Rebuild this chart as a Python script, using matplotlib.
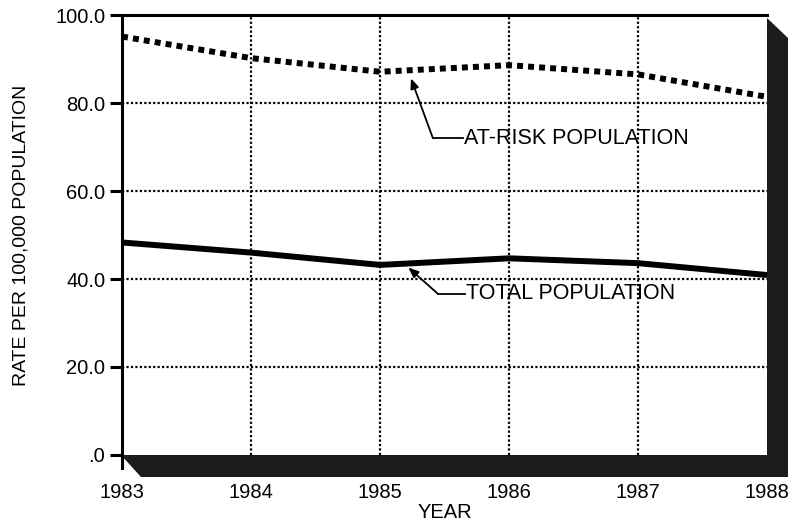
# -*- coding: UTF-8 -*-

"""Rate per 100,000 population, at-risk vs total, 1983-1988
"""

import numpy as np
import matplotlib
matplotlib.use('Agg')
import matplotlib.pyplot as plt
from matplotlib.patches import Polygon

plt.rcParams['font.family'] = ['Liberation Sans', 'DejaVu Sans']

#+++++++++++++++++++++++++++++++++++++++++++++++++++++++++++++++++++++++++++++#

YEARS = [1983, 1984, 1985, 1986, 1987, 1988]
AT_RISK = [95.1, 90.2, 87.1, 88.6, 86.5, 81.4]
TOTAL = [48.3, 46.0, 43.2, 44.7, 43.6, 40.9]

Y_TICKS = [0, 20, 40, 60, 80, 100]
Y_LABELS = ['.0', '20.0', '40.0', '60.0', '80.0', '100.0']

#+++++++++++++++++++++++++++++++++++++++++++++++++++++++++++++++++++++++++++++#

W, H = 788, 524
AX_L, AX_R, AX_T, AX_B = 122, 767, 15, 455


def px2ax(px, py):
  return ((px - AX_L) / (AX_R - AX_L), (AX_B - py) / (AX_B - AX_T))


if __name__ == '__main__':

  fig = plt.figure(figsize=(W / 100, H / 100), dpi=100)
  ax = fig.add_axes([AX_L / W, 1 - AX_B / H,
                     (AX_R - AX_L) / W, (AX_B - AX_T) / H])

  ax.set_xlim(YEARS[0], YEARS[-1])
  ax.set_ylim(0, 100)

  # grid
  for yv in Y_TICKS[1:-1]:
    ax.axhline(yv, color='black', lw=1.6, ls=(0, (1, 1)), zorder=1)
  for xv in YEARS[1:-1]:
    ax.axvline(xv, color='black', lw=1.6, ls=(0, (1, 1)), zorder=1)

  # drop shadow
  shadow_px = [(767, 18), (788, 38), (788, 477), (141, 477), (121, 455),
               (767, 455)]
  shadow = Polygon([px2ax(*p) for p in shadow_px], closed=True,
                   transform=ax.transAxes, clip_on=False,
                   facecolor='#1c1c1c', edgecolor='none', zorder=0)
  ax.add_patch(shadow)

  # left axis runs a little below the floor, like the original
  ax.plot([0, 0], [px2ax(0, 468)[1], 0], transform=ax.transAxes,
          color='black', lw=2.2, clip_on=False, zorder=2)

  # series
  ax.plot(YEARS, AT_RISK, color='black', lw=4.3, ls=(0, (1.0, 0.85)),
          dash_capstyle='butt', zorder=3, clip_on=False)
  ax.plot(YEARS, TOTAL, color='black', lw=4.3, solid_capstyle='butt',
          zorder=3, clip_on=False)

  # labels with leaders
  arrow = dict(arrowstyle='-|>,head_length=0.6,head_width=0.25',
               color='black', lw=1.3, shrinkA=0, shrinkB=0)
  ax.plot([1985.41, 1985.64], [72.0, 72.0], color='black', lw=1.3,
          zorder=4)
  ax.annotate('', xy=(1985.24, 85.6), xytext=(1985.41, 72.0),
              arrowprops=arrow, zorder=4)
  ax.text(1985.65, 72.0, 'AT-RISK POPULATION', fontsize=15.5,
          va='center', ha='left', zorder=4)

  ax.plot([1985.45, 1985.66], [36.6, 36.6], color='black', lw=1.3,
          zorder=4)
  ax.annotate('', xy=(1985.22, 42.6), xytext=(1985.45, 36.6),
              arrowprops=arrow, zorder=4)
  ax.text(1985.67, 36.6, 'TOTAL POPULATION', fontsize=15.5,
          va='center', ha='left', zorder=4)

  # axes styling
  for side in ['right', 'bottom']:
    ax.spines[side].set_visible(False)
  ax.spines['left'].set_linewidth(2.2)
  ax.spines['top'].set_linewidth(2.2)

  ax.set_yticks(Y_TICKS)
  ax.set_yticklabels(Y_LABELS, fontsize=14.5)
  ax.tick_params(axis='y', direction='out', length=9, width=2.2, pad=3)

  ax.set_xticks(YEARS)
  ax.set_xticklabels([str(y) for y in YEARS], fontsize=14.5)
  ax.tick_params(axis='x', direction='out', length=0, pad=20)

  ax.set_ylabel('RATE PER 100,000 POPULATION', fontsize=14)
  ax.yaxis.set_label_coords(px2ax(21, 0)[0], 0.5)
  ax.set_xlabel('YEAR', fontsize=14.5)
  ax.xaxis.set_label_coords(0.5, px2ax(0, 513)[1])
  ax.xaxis.label.set_va('center')
  ax.yaxis.label.set_va('center')

  plt.savefig('out.png', dpi=100)
  plt.close()
